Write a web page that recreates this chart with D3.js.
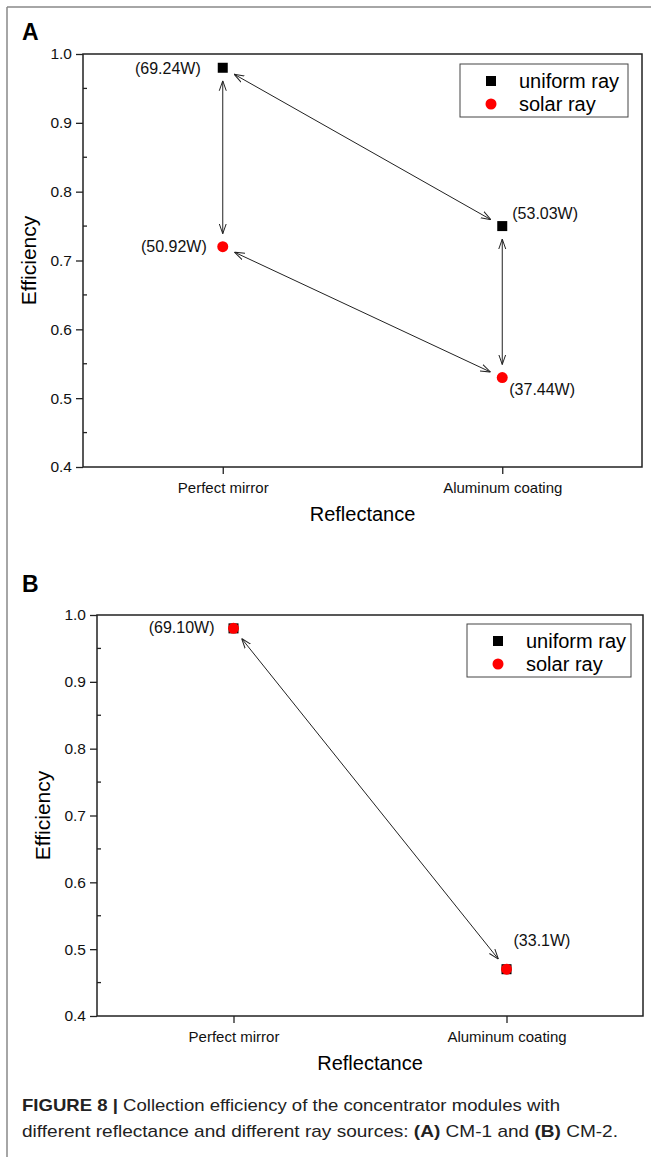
<!DOCTYPE html>
<html>
<head>
<meta charset="utf-8">
<script src="https://cdn.jsdelivr.net/npm/d3@7"></script>
<style>
  body { margin: 0; background: #fff; }
  text { font-family: "Liberation Sans", Arial, sans-serif; }
</style>
</head>
<body>
<div id="canvas"></div>
<script>
// Data
var categories = ["Perfect mirror", "Aluminum coating"];
var yTicks = [0.4, 0.5, 0.6, 0.7, 0.8, 0.9, 1.0];

// panel A (CM-1)
var uniformA = [0.98, 0.75];
var solarA = [0.72, 0.53];
var powerUniformA = ["(69.24W)", "(53.03W)"];
var powerSolarA = ["(50.92W)", "(37.44W)"];

// panel B (CM-2)
var uniformB = [0.98, 0.47];
var solarB = [0.98, 0.47];
var powerB = ["(69.10W)", "(33.1W)"];

var w = 651, h = 1157;

var svg = d3.select("#canvas")
    .append("svg")
    .attr("width", w)
    .attr("height", h);

// arrow head marker (open V)
var defs = svg.append("defs");
defs.append("marker")
    .attr("id", "head")
    .attr("viewBox", "0 0 10 10")
    .attr("refX", 10)
    .attr("refY", 5)
    .attr("markerWidth", 10)
    .attr("markerHeight", 10)
    .attr("markerUnits", "userSpaceOnUse")
    .attr("orient", "auto-start-reverse")
    .append("path")
    .attr("d", "M0,1.5 L10,5 L0,8.5")
    .attr("fill", "none")
    .attr("stroke", "#222")
    .attr("stroke-width", 1);

// frame lines
svg.append("line").attr("x1", 7).attr("y1", 7).attr("x2", w).attr("y2", 7)
    .attr("stroke", "#888").attr("stroke-width", 1.5);
svg.append("line").attr("x1", 7).attr("y1", 7).attr("x2", 7).attr("y2", h)
    .attr("stroke", "#888").attr("stroke-width", 1.5);

function drawPanel(opt) {
    var x = d3.scaleLinear().domain([0.5, 2.5]).range([opt.left, opt.right]);
    var y = d3.scaleLinear().domain([0.4, 1.0]).range([opt.bottom, opt.top]);
    var g = svg.append("g");

    // panel letter
    g.append("text")
        .attr("x", 22).attr("y", opt.letterY)
        .style("font-size", "23px").style("font-weight", "bold")
        .text(opt.letter);

    // plot frame
    g.append("rect")
        .attr("x", opt.left).attr("y", opt.top)
        .attr("width", opt.right - opt.left).attr("height", opt.bottom - opt.top)
        .attr("fill", "none").attr("stroke", "#222").attr("stroke-width", 1.5);

    // y axis
    var yAxis = g.append("g")
        .attr("transform", `translate(${opt.left},0)`)
        .call(d3.axisLeft(y).tickValues(yTicks).tickFormat(d3.format(".1f")).tickSize(7).tickPadding(4));
    yAxis.select(".domain").remove();
    yAxis.selectAll("line").attr("stroke", "#222").attr("stroke-width", 1.3);
    yAxis.selectAll("text").style("font-size", "15.5px").attr("fill", "#111")
        .style("font-family", '"Liberation Sans", Arial, sans-serif');

    // minor ticks, inside
    var minor = d3.range(0.45, 1.0, 0.1);
    g.selectAll(".minor").data(minor).join("line")
        .attr("x1", opt.left).attr("x2", opt.left + 4)
        .attr("y1", d => y(d)).attr("y2", d => y(d))
        .attr("stroke", "#222").attr("stroke-width", 1.3);

    // x axis
    var xAxis = g.append("g")
        .attr("transform", `translate(0,${opt.bottom})`)
        .call(d3.axisBottom(x).tickValues([1, 2]).tickFormat((d, i) => categories[i]).tickSize(7).tickPadding(8));
    xAxis.select(".domain").remove();
    xAxis.selectAll("line").attr("stroke", "#222").attr("stroke-width", 1.3);
    xAxis.selectAll("text").style("font-size", "15px").attr("fill", "#111")
        .style("font-family", '"Liberation Sans", Arial, sans-serif');

    // axis titles
    g.append("text")
        .attr("text-anchor", "middle")
        .attr("x", (opt.left + opt.right) / 2)
        .attr("y", opt.bottom + 54)
        .style("font-size", "20px")
        .text("Reflectance");
    g.append("text")
        .attr("text-anchor", "middle")
        .attr("transform", "rotate(-90)")
        .attr("x", -(opt.top + opt.bottom) / 2)
        .attr("y", opt.left - 47)
        .style("font-size", "21px")
        .text("Efficiency");

    // arrows
    var gap = 13;
    opt.arrows.forEach(function(a) {
        var x1 = x(a[0][0]), y1 = y(a[0][1]), x2 = x(a[1][0]), y2 = y(a[1][1]);
        var len = Math.hypot(x2 - x1, y2 - y1);
        var ux = (x2 - x1) / len, uy = (y2 - y1) / len;
        g.append("line")
            .attr("x1", x1 + ux * gap).attr("y1", y1 + uy * gap)
            .attr("x2", x2 - ux * gap).attr("y2", y2 - uy * gap)
            .attr("stroke", "#222").attr("stroke-width", 1)
            .attr("marker-start", "url(#head)")
            .attr("marker-end", "url(#head)");
    });

    // points
    g.selectAll(".sq").data(opt.uniform).join("rect")
        .attr("x", (d, i) => x(i + 1) - 5).attr("y", d => y(d) - 5)
        .attr("width", 10).attr("height", 10).attr("fill", "#000");
    g.selectAll(".ci").data(opt.solar).join("circle")
        .attr("cx", (d, i) => x(i + 1)).attr("cy", d => y(d))
        .attr("r", 5.5).attr("fill", "#ff0000");

    // power labels
    opt.labels.forEach(function(l) {
        g.append("text")
            .attr("x", x(l.cat) + l.dx).attr("y", y(l.val) + l.dy)
            .attr("text-anchor", l.anchor)
            .style("font-size", "16px").attr("fill", "#111")
            .text(l.text);
    });

    // legend
    var lg = g.append("g").attr("transform", `translate(${opt.legend[0]},${opt.legend[1]})`);
    lg.append("rect").attr("width", opt.legend[2]).attr("height", 53)
        .attr("fill", "#fff").attr("stroke", "#444").attr("stroke-width", 1);
    lg.append("rect").attr("x", 26).attr("y", 12).attr("width", 10).attr("height", 10).attr("fill", "#000");
    lg.append("circle").attr("cx", 31).attr("cy", 40).attr("r", 5.5).attr("fill", "#ff0000");
    lg.append("text").attr("x", 59).attr("y", 24).style("font-size", "20px").text("uniform ray");
    lg.append("text").attr("x", 59).attr("y", 47).style("font-size", "20px").text("solar ray");
}

drawPanel({
    letter: "A", letterY: 40,
    left: 83, right: 642, top: 54, bottom: 467,
    uniform: uniformA, solar: solarA,
    arrows: [
        [[1, uniformA[0]], [1, solarA[0]]],
        [[1, uniformA[0]], [2, uniformA[1]]],
        [[2, uniformA[1]], [2, solarA[1]]],
        [[1, solarA[0]], [2, solarA[1]]]
    ],
    labels: [
        {cat: 1, val: uniformA[0], text: powerUniformA[0], anchor: "end", dx: -22, dy: 6},
        {cat: 2, val: uniformA[1], text: powerUniformA[1], anchor: "start", dx: 10, dy: -7},
        {cat: 1, val: solarA[0], text: powerSolarA[0], anchor: "end", dx: -16, dy: 5},
        {cat: 2, val: solarA[1], text: powerSolarA[1], anchor: "start", dx: 7, dy: 17}
    ],
    legend: [460, 64, 168]
});

drawPanel({
    letter: "B", letterY: 592,
    left: 97, right: 643, top: 615, bottom: 1016,
    uniform: uniformB, solar: solarB,
    arrows: [
        [[1, uniformB[0]], [2, uniformB[1]]]
    ],
    labels: [
        {cat: 1, val: uniformB[0], text: powerB[0], anchor: "end", dx: -19, dy: 5},
        {cat: 2, val: uniformB[1], text: powerB[1], anchor: "start", dx: 7, dy: -23}
    ],
    legend: [467, 624, 164]
});

// caption
var cap = svg.append("text").attr("x", 22).attr("y", 1111).style("font-size", "17px").attr("fill", "#222")
    .attr("textLength", 538).attr("lengthAdjust", "spacingAndGlyphs");
cap.append("tspan").style("font-weight", "bold").text("FIGURE 8 | ");
cap.append("tspan").text("Collection efficiency of the concentrator modules with");
var cap2 = svg.append("text").attr("x", 22).attr("y", 1137).style("font-size", "17px").attr("fill", "#222")
    .attr("textLength", 596).attr("lengthAdjust", "spacingAndGlyphs");
cap2.append("tspan").text("different reflectance and different ray sources: ");
cap2.append("tspan").style("font-weight", "bold").text("(A)");
cap2.append("tspan").text(" CM-1 and ");
cap2.append("tspan").style("font-weight", "bold").text("(B)");
cap2.append("tspan").text(" CM-2.");
</script>
</body>
</html>
